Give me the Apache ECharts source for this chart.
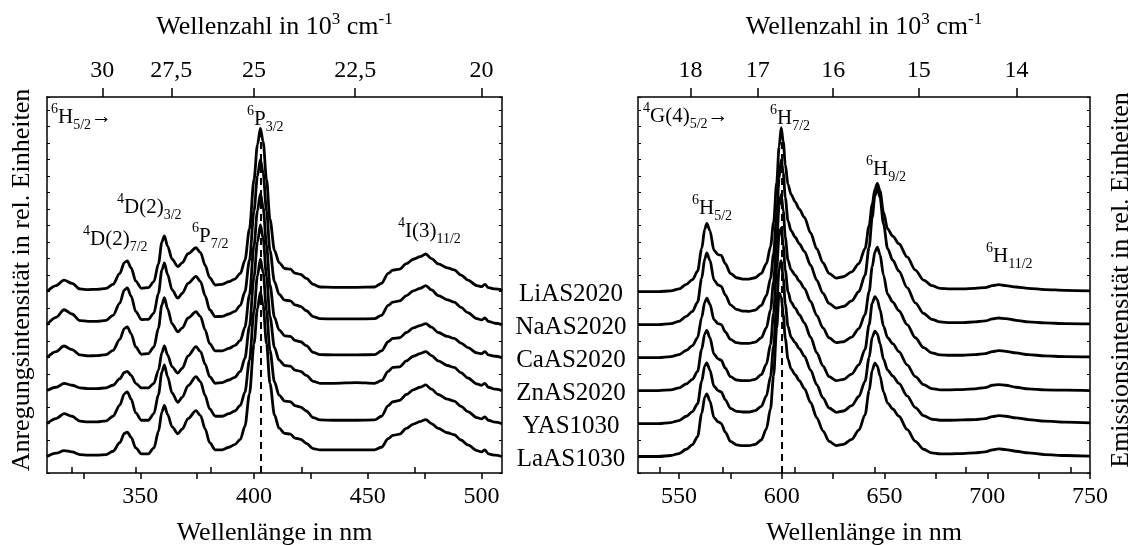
<!DOCTYPE html>
<html><head><meta charset="utf-8">
<script src="https://cdn.jsdelivr.net/npm/echarts@6/dist/echarts.min.js"></script>
<style>html,body{margin:0;padding:0;background:#fff}#c{width:1135px;height:545px}</style>
</head><body><div id="c"></div><script>
// ---------- data ----------
const samples = ['LiAS2020','NaAS2020','CaAS2020','ZnAS2020','YAS1030','LaAS1030'];
const offsets = [5.5, 4.5, 3.5, 2.5, 1.5, 0.5];

const exWl = [309,313,316.5,320,323.5,327,331,335,338,341,
343,344.3,346,348,350.5,353.5,356,358,359.5,360.6,
362,364,366.5,368.5,371,374.5,376.5,378.5,380.5,383,
386,389,391.5,394,396,398,400,401.5,402.8,404,
405.5,407,409,411,413.5,416,418,420.5,423,426,
429,435,445,453,456,459,461,464,467,470,
473,475.5,478,481,485,488,491,494,498,500,
501.5,503,506,509];
const exLi = [0.00,0.18,0.35,0.25,0.08,0.06,0.07,0.10,0.22,0.55,
0.88,0.93,0.72,0.32,0.10,0.12,0.30,0.85,1.50,1.69,
1.38,0.98,0.76,0.88,1.15,1.33,1.18,0.80,0.42,0.20,
0.22,0.30,0.38,0.55,0.95,1.90,3.40,4.45,4.95,4.55,
3.40,2.20,1.25,0.88,0.70,0.68,0.56,0.52,0.40,0.22,
0.14,0.13,0.13,0.14,0.25,0.55,0.65,0.68,0.85,0.98,
1.06,1.14,1.00,0.84,0.72,0.66,0.50,0.35,0.18,0.15,
0.22,0.12,0.08,0.05];
const exNa = [0.00,0.22,0.45,0.32,0.12,0.10,0.10,0.13,0.28,0.65,
1.05,1.11,0.86,0.40,0.15,0.16,0.35,0.95,1.65,1.87,
1.52,1.05,0.80,0.95,1.25,1.46,1.30,0.88,0.45,0.24,
0.25,0.32,0.40,0.58,1.00,1.95,3.45,4.50,5.00,4.60,
3.45,2.25,1.30,0.92,0.74,0.72,0.60,0.55,0.42,0.24,
0.18,0.17,0.17,0.18,0.28,0.58,0.68,0.72,0.88,1.02,
1.10,1.18,1.05,0.88,0.75,0.68,0.52,0.36,0.18,0.14,
0.20,0.10,0.04,0.00];
const exCa = [0.00,0.18,0.35,0.24,0.08,0.05,0.06,0.09,0.22,0.55,
0.88,0.93,0.72,0.32,0.10,0.12,0.32,0.90,1.60,1.82,
1.48,1.02,0.78,0.90,1.20,1.39,1.24,0.84,0.42,0.20,
0.20,0.28,0.36,0.52,0.92,1.90,3.40,4.45,4.97,4.55,
3.40,2.20,1.22,0.84,0.66,0.64,0.52,0.48,0.36,0.16,
0.09,0.08,0.08,0.09,0.20,0.48,0.58,0.60,0.76,0.90,
0.97,1.03,0.92,0.76,0.64,0.58,0.44,0.30,0.14,0.12,
0.18,0.08,0.04,0.00];
const exZn = [0.00,0.10,0.22,0.16,0.08,0.06,0.06,0.08,0.16,0.36,
0.55,0.58,0.46,0.22,0.08,0.08,0.22,0.62,1.15,1.35,
1.08,0.72,0.53,0.68,1.05,1.33,1.18,0.80,0.42,0.22,
0.24,0.32,0.40,0.58,0.98,1.95,3.45,4.50,5.02,4.62,
3.45,2.25,1.30,0.92,0.76,0.74,0.62,0.58,0.46,0.28,
0.22,0.22,0.24,0.22,0.30,0.58,0.70,0.72,0.90,1.04,
1.12,1.18,1.06,0.90,0.76,0.70,0.54,0.38,0.20,0.16,
0.22,0.10,0.04,0.00];
const exY = [0.00,0.15,0.30,0.22,0.07,0.05,0.05,0.08,0.22,0.56,
0.90,0.96,0.74,0.32,0.10,0.10,0.30,0.88,1.56,1.78,
1.42,0.92,0.64,0.80,1.15,1.42,1.26,0.85,0.44,0.22,
0.22,0.30,0.38,0.55,0.95,1.92,3.42,4.48,4.98,4.58,
3.42,2.22,1.26,0.86,0.68,0.66,0.54,0.50,0.38,0.18,
0.11,0.10,0.10,0.11,0.22,0.54,0.66,0.70,0.88,1.02,
1.10,1.17,1.04,0.88,0.74,0.68,0.52,0.36,0.18,0.14,
0.20,0.10,0.04,0.00];
const exLa = [0.00,0.10,0.18,0.14,0.06,0.04,0.04,0.06,0.16,0.42,
0.70,0.74,0.58,0.26,0.08,0.08,0.26,0.76,1.35,1.55,
1.28,0.90,0.69,0.84,1.15,1.39,1.24,0.84,0.42,0.20,
0.20,0.28,0.36,0.52,0.92,1.90,3.42,4.48,4.98,4.58,
3.42,2.22,1.26,0.86,0.70,0.68,0.56,0.52,0.40,0.24,
0.20,0.20,0.20,0.20,0.28,0.54,0.64,0.68,0.85,0.98,
1.06,1.12,1.00,0.85,0.72,0.66,0.50,0.35,0.18,0.14,
0.20,0.08,0.04,0.00];

const emWl = [530,540,546,550,553.5,556.5,559,561,562.5,563.5,
565,567,569,570.5,572.5,575,578,581,584,587,
590,592.5,594.5,596,597.5,598.7,599.7,600.7,601.7,603,
604.5,606.5,608.5,611,614,617,620,623,626.5,630,
634,637.5,640.5,642.5,644,645.3,646.5,647.8,649.5,651.5,
654,657,661,665,669,673,677,682,688,694,
699,702.5,705.5,709,714,720,728,738,750];
const emLi = [0.00,0.00,0.02,0.08,0.22,0.36,0.62,1.30,1.90,2.07,
1.85,1.25,1.12,1.10,0.85,0.55,0.42,0.38,0.38,0.42,
0.55,0.85,1.36,2.10,3.30,4.40,4.97,4.55,3.85,3.25,
2.95,2.72,2.50,2.25,1.78,1.30,0.88,0.55,0.41,0.45,
0.60,0.85,1.30,2.00,2.65,3.10,3.28,3.05,2.40,1.90,
1.68,1.45,1.05,0.65,0.35,0.18,0.10,0.08,0.08,0.10,
0.12,0.18,0.21,0.18,0.14,0.10,0.06,0.04,0.02];
const emNa = [0.00,0.00,0.03,0.10,0.25,0.40,0.68,1.40,2.00,2.17,
1.95,1.35,1.20,1.16,0.90,0.60,0.46,0.41,0.40,0.44,
0.58,0.88,1.40,2.15,3.35,4.45,5.00,4.60,3.85,3.15,
2.85,2.65,2.45,2.22,1.80,1.35,0.95,0.64,0.50,0.55,
0.72,1.00,1.50,2.35,3.25,3.90,4.14,3.85,3.05,2.30,
1.95,1.62,1.12,0.66,0.34,0.16,0.08,0.06,0.06,0.08,
0.11,0.17,0.20,0.18,0.13,0.08,0.05,0.03,0.02];
const emCa = [0.00,0.00,0.03,0.09,0.22,0.36,0.60,1.22,1.68,1.80,
1.62,1.15,1.03,1.00,0.78,0.55,0.45,0.43,0.43,0.47,
0.60,0.90,1.45,2.30,3.55,4.60,4.95,4.45,3.65,2.95,
2.66,2.50,2.32,2.10,1.70,1.28,0.90,0.60,0.45,0.48,
0.62,0.88,1.30,2.00,2.75,3.20,3.35,3.12,2.50,1.92,
1.68,1.42,1.00,0.60,0.30,0.14,0.08,0.07,0.07,0.09,
0.12,0.18,0.21,0.19,0.14,0.09,0.05,0.03,0.02];
const emZn = [0.00,0.00,0.02,0.08,0.20,0.34,0.58,1.25,1.72,1.82,
1.60,1.10,0.96,0.92,0.68,0.42,0.32,0.30,0.30,0.34,
0.48,0.80,1.40,2.35,3.70,4.75,4.92,4.40,3.65,3.00,
2.68,2.50,2.30,2.05,1.62,1.15,0.75,0.42,0.30,0.34,
0.50,0.78,1.25,2.00,2.65,2.85,2.75,2.45,1.95,1.60,
1.42,1.18,0.78,0.42,0.18,0.06,0.02,0.02,0.03,0.05,
0.09,0.16,0.18,0.16,0.10,0.05,0.02,0.01,0.00];
const emY = [0.00,0.00,0.03,0.09,0.22,0.36,0.60,1.28,1.75,1.84,
1.62,1.13,1.00,0.96,0.72,0.46,0.37,0.35,0.35,0.39,
0.52,0.84,1.42,2.35,3.65,4.70,4.94,4.40,3.62,2.95,
2.62,2.45,2.27,2.04,1.62,1.18,0.78,0.47,0.34,0.38,
0.54,0.82,1.28,2.00,2.62,2.80,2.72,2.42,1.95,1.62,
1.44,1.22,0.84,0.48,0.24,0.13,0.10,0.10,0.11,0.12,
0.15,0.21,0.24,0.22,0.17,0.12,0.07,0.04,0.02];
const emLa = [0.00,0.00,0.03,0.09,0.22,0.36,0.60,1.30,1.80,1.90,
1.68,1.18,1.05,1.00,0.74,0.46,0.35,0.33,0.33,0.37,
0.50,0.84,1.45,2.45,3.90,4.95,4.85,4.30,3.58,2.95,
2.66,2.48,2.30,2.06,1.64,1.18,0.78,0.46,0.33,0.37,
0.52,0.80,1.26,2.00,2.62,2.83,2.74,2.44,1.96,1.62,
1.44,1.22,0.82,0.46,0.22,0.11,0.08,0.08,0.09,0.11,
0.14,0.20,0.23,0.21,0.16,0.11,0.06,0.03,0.01];

// tick labels / positions
const exLabelTicks = [350, 400, 450, 500];
const exAllTicks = [325, 350, 375, 400, 425, 450, 475, 500];
const exWavenumLabels = [30, 27.5, 25, 22.5, 20];
const exWavenumMinor = [31.25, 28.75, 26.25, 23.75, 21.25];
const emLabelTicks = [550, 600, 650, 700, 750];
const emAllTicks = [550, 575, 600, 625, 650, 675, 700, 725, 750];
const emWavenumLabels = [18, 17, 16, 15, 14];
const emWavenumMinor = [18.5, 17.5, 16.5, 15.5, 14.5, 13.5];
const exRef = {wl: 403.1, top: 10.3};
const emRef = {wl: 600, top: 10.35};

// ---------- chart ----------
const FONT = '"Liberation Serif","Times New Roman",serif';
const exSeriesData = [exLi, exNa, exCa, exZn, exY, exLa];
const emSeriesData = [emLi, emNa, emCa, emZn, emY, emLa];
const toNm = v => 10000 / v;
const fmtComma = v => { const w = Math.round(10000 / v * 100) / 100; return String(w).replace('.', ','); };

const lineStyleAxis = {color: '#000', width: 1.5};
function bottomAxis(grid, min, max, all, labels) {
  return {type: 'value', gridIndex: grid, position: 'bottom', min, max,
    axisLine: {show: true, onZero: false, lineStyle: lineStyleAxis},
    axisTick: {show: true, inside: false, length: 6, customValues: all, lineStyle: lineStyleAxis},
    axisLabel: {customValues: labels, fontSize: 24, color: '#000', fontFamily: FONT, margin: 12},
    splitLine: {show: false},
    name: 'Wellenlänge in nm', nameLocation: 'middle', nameGap: 47,
    nameTextStyle: {fontSize: 26, color: '#000', fontFamily: FONT}};
}
const richSup = {
  m: {fontSize: 26, fontFamily: FONT, color: '#000', lineHeight: 32},
  s: {fontSize: 17, fontFamily: FONT, color: '#000', lineHeight: 17, verticalAlign: 'top'}
};
function topAxis(grid, min, max, wn) {
  return {type: 'value', gridIndex: grid, position: 'top', min, max,
    axisLine: {show: true, onZero: false, lineStyle: lineStyleAxis},
    axisTick: {show: true, inside: false, length: 9, customValues: wn.map(toNm), lineStyle: lineStyleAxis},
    axisLabel: {customValues: wn.map(toNm), formatter: fmtComma, fontSize: 24, color: '#000', fontFamily: FONT, margin: 14},
    splitLine: {show: false},
    name: '{m|Wellenzahl in 10}{s|3}{m| cm}{s|-1}', nameLocation: 'middle', nameGap: 54,
    nameTextStyle: {rich: richSup}};
}
function topMinor(grid, min, max, wn) {
  return {type: 'value', gridIndex: grid, position: 'top', min, max,
    axisLine: {show: false},
    axisTick: {show: true, inside: false, length: 6, customValues: wn.map(toNm), lineStyle: lineStyleAxis},
    axisLabel: {show: false}, splitLine: {show: false}};
}
function yAx(grid, pos) {
  return {type: 'value', gridIndex: grid, position: pos, min: 0, max: 11.4, interval: 0.5,
    axisLine: {show: true, onZero: false, lineStyle: lineStyleAxis},
    axisTick: {show: true, inside: true, length: 3, lineStyle: {color: '#000', width: 1}},
    axisLabel: {show: false}, splitLine: {show: false}};
}

const series = [];
samples.forEach((name, k) => {
  series.push({name: name + ' Anregung', type: 'line', xAxisIndex: 0, yAxisIndex: 0,
    data: exWl.map((w, i) => [w, exSeriesData[k][i] + offsets[k]]),
    showSymbol: false, smooth: 0.3, smoothMonotone: 'x',
    lineStyle: {color: '#000', width: 2.8}, z: 3});
  series.push({name: name + ' Emission', type: 'line', xAxisIndex: 3, yAxisIndex: 2,
    data: emWl.map((w, i) => [w, emSeriesData[k][i] + offsets[k]]),
    showSymbol: false, smooth: 0.3, smoothMonotone: 'x',
    lineStyle: {color: '#000', width: 2.8}, z: 3});
});
const dashStyle = {color: '#000', width: 2, type: [7, 5]};
series.push({type: 'line', xAxisIndex: 0, yAxisIndex: 0, data: [], z: 2,
  markLine: {silent: true, symbol: 'none', label: {show: false}, lineStyle: dashStyle,
    data: [[{coord: [exRef.wl, 0]}, {coord: [exRef.wl, exRef.top]}]]}});
series.push({type: 'line', xAxisIndex: 3, yAxisIndex: 2, data: [], z: 2,
  markLine: {silent: true, symbol: 'none', label: {show: false}, lineStyle: dashStyle,
    data: [[{coord: [emRef.wl, 0]}, {coord: [emRef.wl, emRef.top]}]]}});

// annotation text helper (rich text with super/subscripts)
const annRich = {
  m: {fontSize: 21, fontFamily: FONT, fill: '#000', lineHeight: 30, verticalAlign: 'middle'},
  p: {fontSize: 14, fontFamily: FONT, fill: '#000', lineHeight: 14, verticalAlign: 'top'},
  b: {fontSize: 14, fontFamily: FONT, fill: '#000', lineHeight: 14, verticalAlign: 'bottom'}
};
function ann(x, y, sup, main, sub, tail) {
  let t = '{p|' + sup + '}{m|' + main + '}{b|' + sub + '}';
  if (tail) t += '{m|' + tail + '}';
  return {type: 'text', x, y, z: 10, style: {text: t, rich: annRich, align: 'left', verticalAlign: 'middle'}};
}
const graphics = [
  ann(51, 117, '6', 'H', '5/2', '→'),
  ann(247, 119, '6', 'P', '3/2'),
  ann(117, 207, '4', 'D(2)', '3/2'),
  ann(83, 239, '4', 'D(2)', '7/2'),
  ann(192, 236, '6', 'P', '7/2'),
  ann(398, 231, '4', 'I(3)', '11/2'),
  ann(643, 116, '4', 'G(4)', '5/2', '→'),
  ann(770, 118, '6', 'H', '7/2'),
  ann(692, 208, '6', 'H', '5/2'),
  ann(866, 169, '6', 'H', '9/2'),
  ann(986, 256, '6', 'H', '11/2'),
  {type: 'text', x: 22, y: 280, rotation: Math.PI / 2, z: 10,
    style: {text: 'Anregungsintensität in rel. Einheiten', font: '26px ' + FONT, fill: '#000', align: 'center', verticalAlign: 'middle'}},
  {type: 'text', x: 1121, y: 280, rotation: Math.PI / 2, z: 10,
    style: {text: 'Emissionsintensität in rel. Einheiten', font: '26px ' + FONT, fill: '#000', align: 'center', verticalAlign: 'middle'}}
];
const labelYs = [294, 327, 360, 393, 426, 459];
samples.forEach((name, k) => {
  graphics.push({type: 'text', x: 571, y: labelYs[k], z: 10,
    style: {text: name, font: '25px ' + FONT, fill: '#000', align: 'center', verticalAlign: 'middle'}});
});

const chart = echarts.init(document.getElementById('c'), null, {renderer: 'canvas'});
chart.setOption({
  animation: false,
  backgroundColor: '#fff',
  grid: [
    {left: 47, top: 97, width: 455, height: 376, outerBoundsMode: 'none', containLabel: false},
    {left: 638, top: 97, width: 452, height: 376, outerBoundsMode: 'none', containLabel: false}
  ],
  xAxis: [
    bottomAxis(0, 309, 509, exAllTicks, exLabelTicks),
    topAxis(0, 309, 509, exWavenumLabels),
    topMinor(0, 309, 509, exWavenumMinor),
    bottomAxis(1, 530, 750, emAllTicks, emLabelTicks),
    topAxis(1, 530, 750, emWavenumLabels),
    topMinor(1, 530, 750, emWavenumMinor)
  ],
  yAxis: [yAx(0, 'left'), yAx(0, 'right'), yAx(1, 'left'), yAx(1, 'right')],
  series,
  graphic: graphics
});
</script></body></html>
